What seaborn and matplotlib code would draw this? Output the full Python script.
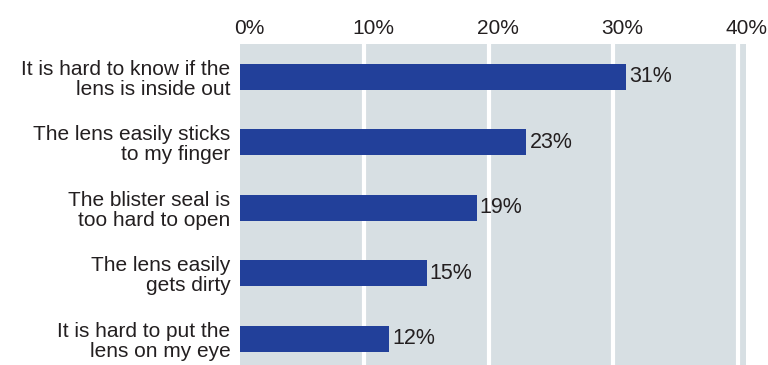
import matplotlib
matplotlib.use("Agg")
import matplotlib.pyplot as plt
import matplotlib.transforms as mtransforms
import seaborn as sns
import pandas as pd

# Survey responses: share of users reporting each handling problem
problems = [
    "It is hard to know if the\nlens is inside out",
    "The lens easily sticks\nto my finger",
    "The blister seal is\ntoo hard to open",
    "The lens easily\ngets dirty",
    "It is hard to put the\nlens on my eye",
]
shares = [31, 23, 19, 15, 12]
tick_values = [0, 10, 20, 30, 40]
tick_labels = ["0%", "10%", "20%", "30%", "40%"]

BAR = "#22409a"
PANEL = "#d7dfe3"
INK = "#231f20"

sns.set_theme(style="white")
plt.rcParams["font.family"] = ["Liberation Sans", "DejaVu Sans"]

df = pd.DataFrame({"problem": problems, "share": shares})

fig = plt.figure(figsize=(7.68, 3.65), dpi=100)
ax = fig.add_axes([240 / 768, 0.0, 506 / 768, 321 / 365])
ax.set_facecolor(PANEL)

sns.barplot(data=df, x="share", y="problem", orient="h", color=BAR,
            saturation=1, width=0.4, linewidth=0, ax=ax, zorder=3)

ax.set_xlim(0, 40.65)
ax.set_ylim(4.4, -0.5)
ax.set_xticks(tick_values)
ax.set_xticklabels(tick_labels, fontsize=15, color=INK)
ax.xaxis.tick_top()
ax.tick_params(axis="x", length=0, pad=4)
ax.tick_params(axis="y", length=0, pad=7)

# nudge the percentage scale a little to the right of each gridline
shift = mtransforms.ScaledTranslation(9 / 100, 0, fig.dpi_scale_trans)
for lbl in ax.get_xticklabels():
    lbl.set_transform(lbl.get_transform() + shift)

for lbl in ax.get_yticklabels():
    lbl.set_fontsize(15)
    lbl.set_color(INK)
    lbl.set_linespacing(1.08)
ax.set_xlabel("")
ax.set_ylabel("")
for x in tick_values[1:]:
    ax.axvline(x, color="white", lw=3, zorder=2)
for s in ax.spines.values():
    s.set_visible(False)

for i, v in enumerate(shares):
    ax.text(v + 0.25, i, f"{v}%", va="center", ha="left", fontsize=15.5,
            color=INK, zorder=4)

fig.savefig("out.png", dpi=100, facecolor="white")
